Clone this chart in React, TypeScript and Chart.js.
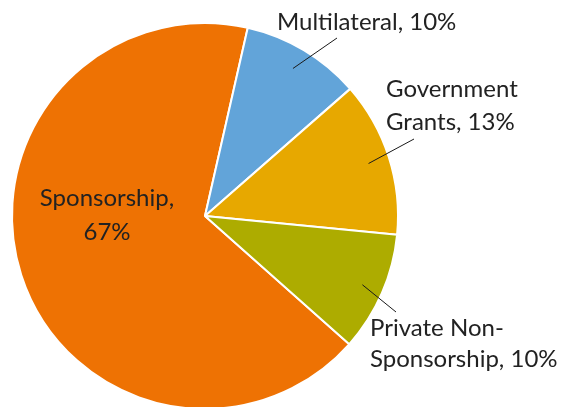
import React, { useEffect, useRef } from "react";
import { Chart, registerables } from "chart.js";

Chart.register(...registerables);

const categories = ["Sponsorship", "Multilateral", "Government Grants", "Private Non-Sponsorship"];
const values = [67, 10, 13, 10];
const colors = ["#EE7203", "#62A4D9", "#E7A800", "#ADAC00"];
// label lines as shown in the picture
const labelLines = [
  ["Sponsorship,", "67%"],
  ["Multilateral, 10%"],
  ["Government", "Grants, 13%"],
  ["Private Non-", "Sponsorship, 10%"],
];

const FONT = "24px 'Lato', 'Open Sans', sans-serif";

const labelPlugin = {
  id: "pieLabels",
  afterDraw(chart: any) {
    const ctx = chart.ctx;
    const meta = chart.getDatasetMeta(0);
    ctx.save();
    ctx.font = FONT;
    ctx.fillStyle = "#222222";
    ctx.textBaseline = "middle";
    const layout: any[] = [
      { x: 107, y: 198, align: "center", lh: 34, leader: null },
      { x: 277, y: 22, align: "left", lh: 32, leader: [337, 38] },
      { x: 386, y: 89, align: "left", lh: 33, leader: [414, 139] },
      { x: 370, y: 328, align: "left", lh: 31, leader: [396, 312] },
    ];
    meta.data.forEach((arc: any, i: number) => {
      const L = layout[i];
      ctx.textAlign = L.align;
      labelLines[i].forEach((line: string, k: number) => {
        ctx.fillText(line, L.x, L.y + k * L.lh);
      });
      if (L.leader) {
        const mid = (arc.startAngle + arc.endAngle) / 2;
        const r = arc.outerRadius * 0.89;
        const sx = arc.x + Math.cos(mid) * r;
        const sy = arc.y + Math.sin(mid) * r;
        ctx.strokeStyle = "#1a1a1a";
        ctx.lineWidth = 1;
        ctx.beginPath();
        ctx.moveTo(sx, sy);
        ctx.lineTo(L.leader[0], L.leader[1]);
        ctx.stroke();
      }
    });
    ctx.restore();
  },
};

export default function App() {
  const ref = useRef<HTMLCanvasElement | null>(null);
  useEffect(() => {
    document.body.style.margin = "0";
    document.body.style.overflow = "hidden";
    const chart = new Chart(ref.current!, {
      type: "pie",
      data: {
        labels: categories,
        datasets: [
          {
            data: values,
            backgroundColor: colors,
            borderColor: "#ffffff",
            borderWidth: 2,
          },
        ],
      },
      options: {
        responsive: false,
        animation: false,
        rotation: 131.6,
        radius: 193,
        layout: { padding: { left: 12, top: 23, right: 169, bottom: 21 } },
        plugins: {
          legend: { display: false },
          tooltip: { enabled: false },
        },
      },
      plugins: [labelPlugin],
    });
    return () => chart.destroy();
  }, []);
  return (
    <div style={{ position: "fixed", left: 0, top: 0, width: 567, height: 407, overflow: "hidden", background: "#fff" }}>
      <canvas ref={ref} width={567} height={430} style={{ width: 567, height: 430, display: "block" }} />
    </div>
  );
}
